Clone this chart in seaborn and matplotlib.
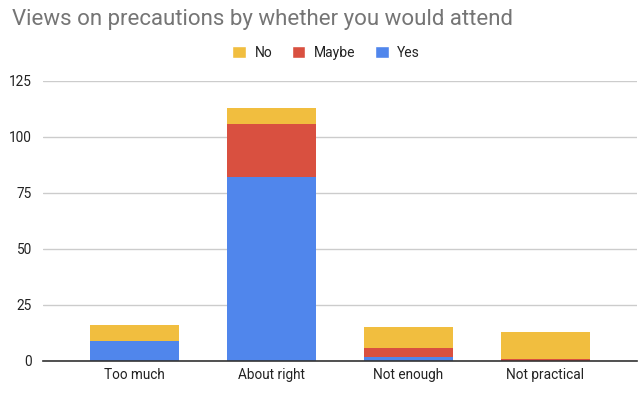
import matplotlib
matplotlib.use("Agg")
import matplotlib.pyplot as plt
import seaborn as sns
import pandas as pd
import numpy as np
from matplotlib.patches import Patch

categories = ["Too much", "About right", "Not enough", "Not practical"]
yes_vals = [9, 82, 2, 0]
maybe_vals = [0, 24, 4, 1]
no_vals = [7, 7, 9, 12]
y_ticks = [0, 25, 50, 75, 100, 125]

c_yes = "#5086ec"
c_maybe = "#d95040"
c_no = "#f1be3f"

sns.set_theme(style="white")
plt.rcParams["font.family"] = ["Roboto", "DejaVu Sans"]

df = pd.DataFrame({
    "category": categories,
    "yes": yes_vals,
    "maybe": maybe_vals,
    "no": no_vals,
})
df["yes_maybe"] = df["yes"] + df["maybe"]
df["total"] = df["yes_maybe"] + df["no"]

fig = plt.figure(figsize=(6.39, 3.94), dpi=100)
ax = fig.add_axes([43 / 639, 1 - 361 / 394, 594 / 639, (361 - 81) / 394])

bw = 0.65
sns.barplot(data=df, x="category", y="total", color=c_no, width=bw,
            saturation=1, ax=ax, edgecolor="none", linewidth=0, zorder=2)
sns.barplot(data=df, x="category", y="yes_maybe", color=c_maybe, width=bw,
            saturation=1, ax=ax, edgecolor="none", linewidth=0, zorder=3)
sns.barplot(data=df, x="category", y="yes", color=c_yes, width=bw,
            saturation=1, ax=ax, edgecolor="none", linewidth=0, zorder=4)

ax.set_xlim(-0.5 - 0.17, 3.5 + 0.17)
ax.set_ylim(0, 125)
ax.set_yticks(y_ticks)
ax.set_yticklabels([str(t) for t in y_ticks])
ax.set_xlabel("")
ax.set_ylabel("")
ax.yaxis.grid(True, color="#cccccc", linewidth=1, zorder=0)
ax.set_axisbelow(True)
for s in ["top", "right", "left"]:
    ax.spines[s].set_visible(False)
ax.spines["bottom"].set_color("#333333")
ax.spines["bottom"].set_linewidth(1.2)
ax.spines["bottom"].set_zorder(5)
ax.tick_params(axis="y", length=0, pad=8, labelsize=9.8, labelcolor="#222222")
ax.tick_params(axis="x", length=0, pad=5, labelsize=9.8, labelcolor="#222222")

fig.text(12 / 639, 1 - 19 / 394, "Views on precautions by whether you would attend",
         fontsize=16, color="#757575", ha="left", va="center")

handles = [Patch(facecolor=c_no, label="No"),
           Patch(facecolor=c_maybe, label="Maybe"),
           Patch(facecolor=c_yes, label="Yes")]
fig.legend(handles=handles, loc="center", bbox_to_anchor=(326 / 639, 1 - 53 / 394),
           ncol=3, frameon=False, fontsize=10, handlelength=1.0, handleheight=1.0,
           handletextpad=0.6, columnspacing=1.4, labelcolor="#222222")

fig.savefig("out.png", dpi=100)
